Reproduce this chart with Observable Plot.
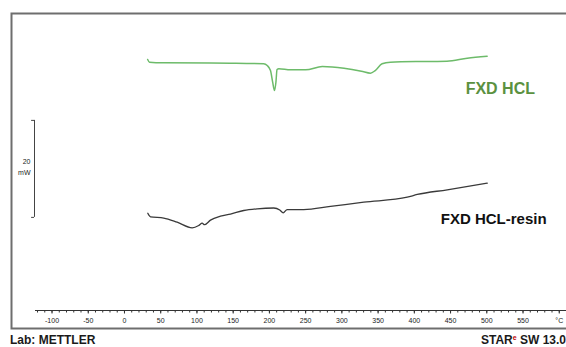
<!DOCTYPE html>
<html><head><meta charset="utf-8">
<script src="https://cdn.jsdelivr.net/npm/d3@7"></script>
<script src="https://cdn.jsdelivr.net/npm/@observablehq/plot@0.6"></script>
<style>
html,body{margin:0;padding:0;background:#fff;}
body{width:566px;height:347px;overflow:hidden;}
#footer{position:relative;height:15px;font-family:"Liberation Sans Narrow","Liberation Sans",Arial,sans-serif;font-weight:bold;font-size:12px;color:#1a1a1a;line-height:13px;}
#footer .lab{position:absolute;left:10px;top:2px;}
#footer .star{position:absolute;right:0px;top:2px;white-space:nowrap;}
#footer sup{color:#c00000;font-size:7px;line-height:0;vertical-align:4px;}
</style></head>
<body>
<div id="chart"></div>
<div id="footer"><span class="lab">Lab: METTLER</span><span class="star">STAR<sup>e</sup> SW 13.0</span></div>
<script>
// ---- data (temperature °C, heat flow mW with display offsets) ----
const seriesNames = ["FXD HCL", "FXD HCL-resin"];
const tempGreen = [32, 34.5, 54, 146, 192, 197, 201.5, 204.5, 207, 209, 210.5, 213, 229, 243, 250, 273, 303, 327, 339.5, 346, 355.5, 367, 413, 445, 473, 500.5];
const hfGreen   = [51.75, 51.2, 51.07, 50.99, 50.87, 50.52, 49.48, 47.07, 45.36, 47.07, 49.69, 49.84, 49.63, 49.63, 49.63, 50.31, 49.96, 49.34, 48.93, 49.48, 50.87, 51.2, 51.34, 51.4, 52.02, 52.43];
const tempBlack = [32.2, 35.9, 54.2, 72.7, 93.4, 102.5, 107.2, 110.4, 118.7, 132.5, 146.3, 164.6, 183.1, 206, 214.3, 219, 224.5, 247.4, 284.3, 330.3, 390.2, 404, 445.4, 500.6];
const hfBlack   = [20.06, 19.32, 19.07, 18.21, 17.05, 17.53, 18.0, 17.69, 18.64, 19.44, 19.88, 20.62, 20.97, 21.13, 20.72, 20.14, 20.82, 20.82, 21.48, 22.33, 23.36, 23.92, 24.89, 26.25];
const minorTicks = d3.range(-120, 601, 10);
const majorTicks = [-100, -50, 0, 50, 100, 150, 200, 250, 300, 350, 400, 450, 500, 550, 600];
const majorLabels = ["-100", "-50", "0", "50", "100", "150", "200", "250", "300", "350", "400", "450", "500", "550", "°C"];
const scaleBarLow = 19.2, scaleBarSpan = 20, scaleBarText = "20\nmW";

const xDomain = [-122.8, 610];
const yDomain = [0, 61.24];

const green = tempGreen.map((t, i) => ({t, hf: hfGreen[i]}));
const black = tempBlack.map((t, i) => ({t, hf: hfBlack[i]}));
const narrow = "'Liberation Sans Narrow','Liberation Sans',Arial,sans-serif";

const chart = Plot.plot({
  width: 566,
  height: 332,
  marginLeft: 35,
  marginRight: 0,
  marginTop: 13,
  marginBottom: 22,
  style: {background: "#fff", fontFamily: narrow},
  x: {domain: xDomain, axis: null, label: null},
  y: {domain: yDomain, axis: null, label: null},
  marks: [
    Plot.frame({stroke: "#6e6e6e", strokeWidth: 2, insetLeft: -24, insetRight: -10, insetBottom: -18, insetTop: 0}),
    Plot.ruleY([yDomain[0]], {stroke: "#333", strokeWidth: 1.2}),
    Plot.axisX({ticks: minorTicks, tickSize: 2.5, tickFormat: () => "", label: null, stroke: "#333"}),
    Plot.axisX({ticks: majorTicks, tickSize: 3.5, tickPadding: 4.5, label: null, tickFormat: (d) => majorLabels[majorTicks.indexOf(d)], fontSize: 7, fill: "#222", stroke: "#333"}),
    // scale bar
    Plot.ruleX([xDomain[0]], {y1: scaleBarLow, y2: scaleBarLow + scaleBarSpan, dx: -1, stroke: "#444", strokeWidth: 1}),
    Plot.ruleY([scaleBarLow, scaleBarLow + scaleBarSpan], {x1: xDomain[0] - 4, x2: xDomain[0], dx: -1, stroke: "#444", strokeWidth: 1}),
    Plot.text([scaleBarLow + scaleBarSpan / 2], {x: xDomain[0], y: (d) => d, text: () => scaleBarText, textAnchor: "end", dx: -5, dy: -3, fontSize: 7, lineHeight: 1.6, fill: "#222"}),
    // curves
    Plot.line(green, {x: "t", y: "hf", stroke: "#6dbb6a", strokeWidth: 1.5, curve: "monotone-x"}),
    Plot.line(black, {x: "t", y: "hf", stroke: "#3a3a3a", strokeWidth: 1.3, curve: "monotone-x"}),
    // labels
    Plot.text([green[green.length - 1]], {x: "t", y: "hf", text: () => seriesNames[0], textAnchor: "start", dx: -21.5, dy: 32.5, fontSize: 16, fontWeight: "bold", fontFamily: "'Liberation Sans',Arial,sans-serif", fill: "#5b9140"}),
    Plot.text([black[black.length - 1]], {x: "t", y: "hf", text: () => seriesNames[1], textAnchor: "start", dx: -46.5, dy: 35.5, fontSize: 15, fontWeight: "bold", fontFamily: "'Liberation Sans',Arial,sans-serif", fill: "#111"})
  ]
});
document.getElementById("chart").appendChild(chart);
</script>
</body></html>
